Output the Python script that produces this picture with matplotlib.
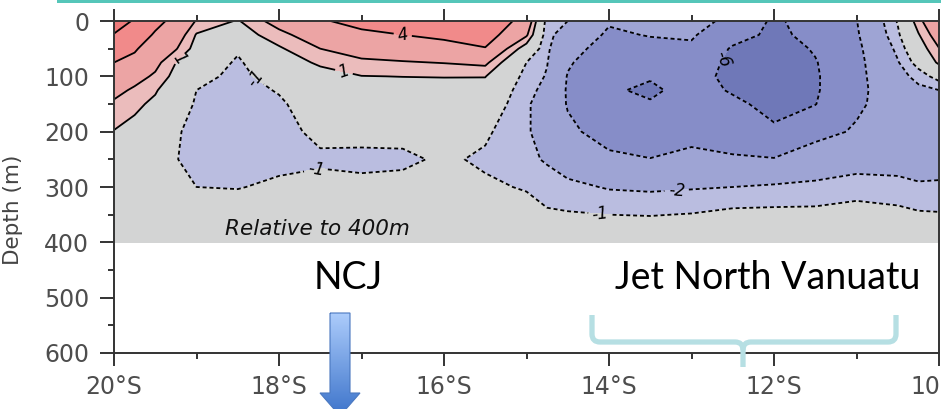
import numpy as np
import matplotlib
matplotlib.use('Agg')
import matplotlib.pyplot as plt
from matplotlib.path import Path
from matplotlib.patches import PathPatch, Polygon, Rectangle

# section grid (velocity relative to 400 m)
lats = [-20, -19.75, -19.5, -19.25, -19, -18.5, -18, -17.5, -17, -16.5, -16, -15.5,
        -15, -14.75, -14.5, -14, -13.5, -13, -12.5, -12, -11.5, -11, -10.5, -10.25, -10]
depths = [0, 25, 50, 75, 100, 125, 150, 200, 250, 300, 350, 400]

# one row per latitude, values down the depths
vel_by_lat = [
    [7.0, 5.9, 5.0, 4.0, 3.2, 2.4, 1.8, 0.95, 0.6, 0.4, 0.2, 0],
    [5.8, 5.0, 4.2, 3.5, 2.5, 1.8, 1.2, 0.7, 0.4, 0.3, 0.1, 0],
    [4.5, 3.8, 3.0, 2.4, 1.8, 1.1, 0.8, 0.4, 0.1, 0.1, 0.05, 0],
    [3.5, 2.9, 2.1, 1.0, 0.6, 0.3, 0.0, -0.85, -0.95, -0.5, -0.2, 0],
    [1.9, 0.9, 0.5, 0.1, -0.5, -1.0, -1.2, -1.4, -1.4, -1.0, -0.4, 0],
    [0.9, 0.4, -0.8, -1.2, -1.4, -1.5, -1.6, -1.6, -1.5, -1.05, -0.4, 0],
    [2.6, 1.6, 0.85, 0.3, -0.3, -0.9, -1.2, -1.4, -1.3, -0.8, -0.3, 0],
    [3.8, 2.9, 2.0, 1.2, 0.5, 0.1, -0.2, -0.7, -1.2, -0.6, -0.2, 0],
    [4.6, 3.6, 2.5, 1.8, 0.97, 0.5, 0.2, -0.6, -1.3, -0.7, -0.2, 0],
    [5.0, 4.0, 2.9, 1.9, 1.02, 0.5, 0.2, -0.6, -1.25, -0.6, -0.2, 0],
    [5.3, 4.4, 3.3, 2.05, 1.05, 0.5, 0.2, -0.3, -0.8, -0.4, -0.15, 0],
    [5.6, 4.9, 3.9, 2.3, 1.05, 0.4, 0.0, -0.8, -1.2, -0.8, -0.3, 0],
    [3.2, 2.2, 0.3, -1.0, -1.4, -1.7, -1.9, -1.9, -1.8, -1.1, -0.5, 0],
    [-1.5, -1.7, -1.8, -1.95, -2.1, -2.3, -2.4, -2.4, -2.1, -1.6, -0.8, 0],
    [-2.0, -2.6, -3.3, -3.8, -4.1, -4.2, -4.15, -3.6, -2.7, -1.7, -0.9, 0],
    [-3.8, -4.3, -4.8, -5.2, -5.6, -5.85, -5.6, -4.8, -3.6, -2.1, -1.0, 0],
    [-3.5, -3.9, -4.6, -5.3, -5.9, -6.2, -5.9, -5.1, -3.95, -2.2, -1.05, 0],
    [-3.3, -3.8, -4.3, -4.8, -5.3, -5.6, -5.4, -4.5, -3.6, -2.1, -0.95, 0],
    [-4.5, -5.3, -6.2, -6.5, -6.5, -6.1, -5.8, -4.9, -3.8, -2.0, -0.7, 0],
    [-6.3, -6.4, -6.8, -7.0, -6.9, -6.6, -6.3, -5.85, -3.9, -1.8, -0.7, 0],
    [-5.2, -5.5, -5.85, -6.1, -6.2, -6.2, -6.05, -4.6, -3.0, -1.7, -0.7, 0],
    [-4.05, -4.2, -4.4, -4.5, -4.5, -4.45, -4.3, -3.8, -2.5, -1.55, -0.45, 0],
    [-0.9, -1.2, -1.7, -2.1, -2.5, -2.9, -3.1, -2.8, -2.6, -1.6, -0.7, 0],
    [1.6, 0.9, 0.3, -0.5, -1.6, -2.3, -2.5, -2.4, -2.4, -1.9, -0.85, 0],
    [3.6, 2.8, 1.95, 1.25, -0.5, -2.0, -2.3, -2.3, -2.3, -1.9, -0.9, 0],
]

fill_levels = [-10, -6, -4, -2, -1, 1, 2, 4, 6, 10]
fill_colors = ['#6f78b8', '#868dc8', '#9ea4d4', '#babde0', '#d3d4d4',
               '#ebbcbc', '#eca4a4', '#f18a8a', '#ee7a7a']
line_levels = [-6, -4, -2, -1, 1, 2, 4, 6]

lon_ticks = [-20, -18, -16, -14, -12, -10]
lon_labels = ['20°S', '18°S', '16°S', '14°S', '12°S', '10°S']
depth_ticks = [0, 100, 200, 300, 400, 500, 600]

# label spots (lat, depth) near where the original labels sit
label_spots = [(-19.22, 67), (-18.23, 98), (-17.22, 94), (-16.5, 25),
               (-17.54, 273), (-12.57, 70), (-13.18, 306), (-14.1, 345)]

vel = np.array(vel_by_lat).T

W, H = 941, 409
fig = plt.figure(figsize=(W / 100, H / 100), dpi=100)
ax = fig.add_axes([114 / W, 1 - 353 / H, (939 - 114) / W, (353 - 21) / H])

ax.contourf(lats, depths, vel, levels=fill_levels, colors=fill_colors)
dash = (0, (2.2, 1.6))
cs = ax.contour(lats, depths, vel, levels=line_levels, colors='k', linewidths=1.3,
                linestyles=[dash if l < 0 else 'solid' for l in line_levels])
lbls = ax.clabel(cs, manual=label_spots, fmt='%d', fontsize=12, inline=True,
                 inline_spacing=4)
for t in lbls:
    t.set_fontstyle('italic')

ax.set_xlim(-20, -10)
ax.set_ylim(600, 0)
ax.set_xticks(lon_ticks)
ax.set_xticklabels(lon_labels)
ax.set_xticks(np.arange(-19, -10, 2), minor=True)
ax.set_yticks(depth_ticks)
ax.set_yticks(np.arange(50, 600, 100), minor=True)
ax.tick_params(axis='both', which='major', labelsize=17, labelcolor='#4d4d4d',
               color='#333333', width=1.4)
ax.tick_params(axis='x', which='both', top=True, direction='out')
ax.tick_params(axis='x', which='major', length=9, pad=7)
ax.tick_params(axis='y', which='major', length=10, pad=8)
ax.tick_params(which='minor', length=4.5, width=1.4, color='#333333')
for s in ax.spines.values():
    s.set_linewidth(1.4)
    s.set_color('#333333')
ax.set_ylabel('Depth (m)', fontsize=15.5, color='#444444')
ax.yaxis.set_label_coords(-0.11, 0.43)

# overlay in pixel coords for the slide annotations
ov = fig.add_axes([0, 0, 1, 1], zorder=5)
ov.set_xlim(0, W)
ov.set_ylim(H, 0)
ov.axis('off')
ov.patch.set_alpha(0)

ov.add_patch(Rectangle((57, 0), W - 57, 3, color='#55c6b9', lw=0))

ov.text(317, 229, 'Relative to 400m', fontsize=15.5, style='italic',
        ha='center', va='center', color='#111111')
ov.text(348, 278, 'NCJ', fontsize=27, family='Lato', ha='center', va='center')
ov.text(768, 278, 'Jet North Vanuatu', fontsize=27, family='Lato',
        ha='center', va='center')

# brace under the jet label
bx0, bx1, bxm, by0, by1, by2 = 592, 896, 743, 315, 342, 367
r = 8
verts = [(bx0, by0), (bx0, by1 - r), (bx0, by1), (bx0 + r, by1), (bxm - r, by1),
         (bxm, by1), (bxm, by1 + r), (bxm, by2)]
codes = [Path.MOVETO, Path.LINETO, Path.CURVE3, Path.CURVE3, Path.LINETO,
         Path.CURVE3, Path.CURVE3, Path.LINETO]
verts2 = [(bx1, by0), (bx1, by1 - r), (bx1, by1), (bx1 - r, by1), (bxm + r, by1),
          (bxm, by1), (bxm, by1 + r)]
codes2 = [Path.MOVETO, Path.LINETO, Path.CURVE3, Path.CURVE3, Path.LINETO,
          Path.CURVE3, Path.CURVE3]
for v, c in [(verts, codes), (verts2, codes2)]:
    ov.add_patch(PathPatch(Path(v, c), fill=False, edgecolor='#b6dfe3', lw=3.8,
                           capstyle='butt', joinstyle='round'))

# gradient arrow for the NCJ
arrow = Polygon([(330, 313), (350, 313), (350, 393), (360, 393), (340, 416),
                 (320, 393), (330, 393)], closed=True, facecolor='none',
                edgecolor='#4a78c0', lw=0.8, zorder=3)
ov.add_patch(arrow)
grad = np.linspace(0, 1, 100).reshape(-1, 1)
cmap = matplotlib.colors.LinearSegmentedColormap.from_list('arr', ['#acccfb', '#3d74cb'])
im = ov.imshow(grad, cmap=cmap, extent=(318, 362, 416, 313), aspect='auto', zorder=2)
im.set_clip_path(arrow)
ov.set_xlim(0, W)
ov.set_ylim(H, 0)

fig.savefig('out.png', dpi=100)
